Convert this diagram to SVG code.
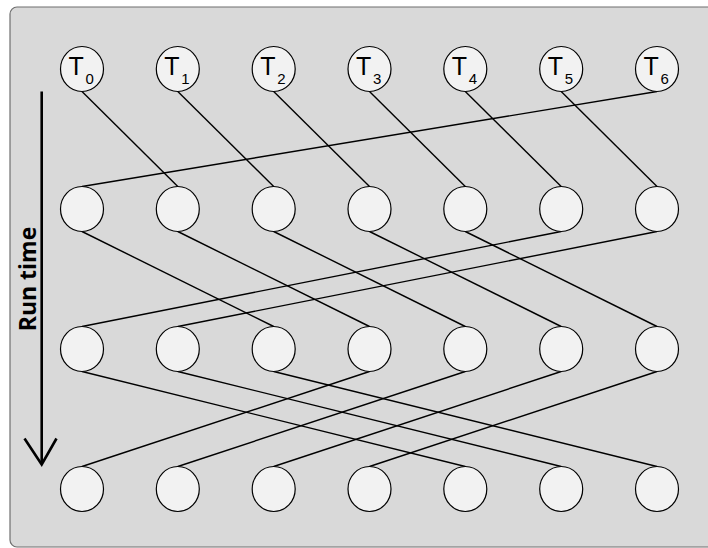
<svg xmlns="http://www.w3.org/2000/svg" width="708" height="548" viewBox="0 0 708 548">
<style>
.bg{fill:#d9d9d9;stroke:#6f6f6f;stroke-width:1.2}
.n{fill:#f2f2f2;stroke:#000;stroke-width:1.2}
.c line{stroke:#000;stroke-width:1.4}
.t{font-family:"Liberation Sans",Arial,sans-serif;font-size:25px;fill:#000}
.s{font-size:15px}
.rt{font-family:"Open Sans","DejaVu Sans",sans-serif;font-weight:bold;font-size:23px;fill:#000}
</style>
<defs>
<ellipse id="c" cx="0" cy="0" rx="21.5" ry="22.5" class="n"/>
</defs>
<rect class="bg" x="10" y="7" width="710" height="540" rx="7" ry="7"/>
<g id="axis">
<line x1="41.7" y1="91.5" x2="41.7" y2="464" stroke="#000" stroke-width="2.6"/>
<polyline points="24.5,438.5 41.7,464.5 56.5,438.5" fill="none" stroke="#000" stroke-width="2.6"/>
<text class="rt" transform="translate(36,279) rotate(-90)" text-anchor="middle">Run time</text>
</g>
<g id="connectors" class="c">
<line x1="82" y1="91.5" x2="177.8" y2="186.5"/>
<line x1="177.8" y1="91.5" x2="273.7" y2="186.5"/>
<line x1="273.7" y1="91.5" x2="369.5" y2="186.5"/>
<line x1="369.5" y1="91.5" x2="465.3" y2="186.5"/>
<line x1="465.3" y1="91.5" x2="561.2" y2="186.5"/>
<line x1="561.2" y1="91.5" x2="657" y2="186.5"/>
<line x1="657" y1="91.5" x2="82" y2="186.5"/>
<line x1="82" y1="231.5" x2="273.7" y2="326.5"/>
<line x1="177.8" y1="231.5" x2="369.5" y2="326.5"/>
<line x1="273.7" y1="231.5" x2="465.3" y2="326.5"/>
<line x1="369.5" y1="231.5" x2="561.2" y2="326.5"/>
<line x1="465.3" y1="231.5" x2="657" y2="326.5"/>
<line x1="561.2" y1="231.5" x2="82" y2="326.5"/>
<line x1="657" y1="231.5" x2="177.8" y2="326.5"/>
<line x1="82" y1="371.5" x2="465.3" y2="466.5"/>
<line x1="177.8" y1="371.5" x2="561.2" y2="466.5"/>
<line x1="273.7" y1="371.5" x2="657" y2="466.5"/>
<line x1="369.5" y1="371.5" x2="82" y2="466.5"/>
<line x1="465.3" y1="371.5" x2="177.8" y2="466.5"/>
<line x1="561.2" y1="371.5" x2="273.7" y2="466.5"/>
<line x1="657" y1="371.5" x2="369.5" y2="466.5"/>
</g>
<g id="T0"><use href="#c" x="82" y="69"/><text class="t" x="68.5" y="74.5">T<tspan class="s" x="85.5" y="83.5">0</tspan></text></g>
<g id="T1"><use href="#c" x="177.8" y="69"/><text class="t" x="164.3" y="74.5">T<tspan class="s" x="181.3" y="83.5">1</tspan></text></g>
<g id="T2"><use href="#c" x="273.7" y="69"/><text class="t" x="260.2" y="74.5">T<tspan class="s" x="277.2" y="83.5">2</tspan></text></g>
<g id="T3"><use href="#c" x="369.5" y="69"/><text class="t" x="356" y="74.5">T<tspan class="s" x="373" y="83.5">3</tspan></text></g>
<g id="T4"><use href="#c" x="465.3" y="69"/><text class="t" x="451.8" y="74.5">T<tspan class="s" x="468.8" y="83.5">4</tspan></text></g>
<g id="T5"><use href="#c" x="561.2" y="69"/><text class="t" x="547.7" y="74.5">T<tspan class="s" x="564.7" y="83.5">5</tspan></text></g>
<g id="T6"><use href="#c" x="657" y="69"/><text class="t" x="643.5" y="74.5">T<tspan class="s" x="660.5" y="83.5">6</tspan></text></g>
<g id="r2n0"><use href="#c" x="82" y="209"/></g>
<g id="r2n1"><use href="#c" x="177.8" y="209"/></g>
<g id="r2n2"><use href="#c" x="273.7" y="209"/></g>
<g id="r2n3"><use href="#c" x="369.5" y="209"/></g>
<g id="r2n4"><use href="#c" x="465.3" y="209"/></g>
<g id="r2n5"><use href="#c" x="561.2" y="209"/></g>
<g id="r2n6"><use href="#c" x="657" y="209"/></g>
<g id="r3n0"><use href="#c" x="82" y="349"/></g>
<g id="r3n1"><use href="#c" x="177.8" y="349"/></g>
<g id="r3n2"><use href="#c" x="273.7" y="349"/></g>
<g id="r3n3"><use href="#c" x="369.5" y="349"/></g>
<g id="r3n4"><use href="#c" x="465.3" y="349"/></g>
<g id="r3n5"><use href="#c" x="561.2" y="349"/></g>
<g id="r3n6"><use href="#c" x="657" y="349"/></g>
<g id="r4n0"><use href="#c" x="82" y="489"/></g>
<g id="r4n1"><use href="#c" x="177.8" y="489"/></g>
<g id="r4n2"><use href="#c" x="273.7" y="489"/></g>
<g id="r4n3"><use href="#c" x="369.5" y="489"/></g>
<g id="r4n4"><use href="#c" x="465.3" y="489"/></g>
<g id="r4n5"><use href="#c" x="561.2" y="489"/></g>
<g id="r4n6"><use href="#c" x="657" y="489"/></g>
</svg>
